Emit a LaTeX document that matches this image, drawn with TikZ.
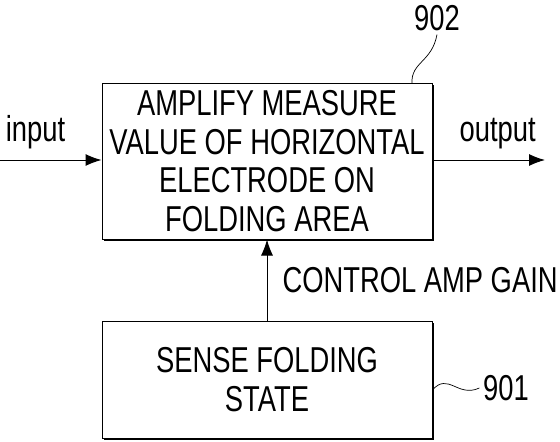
\documentclass[tikz,border=0pt]{standalone}
\usepackage{fontspec}
\setmainfont{Liberation Sans}[FakeStretch=0.76]
\usetikzlibrary{arrows.meta,shadows}

\begin{document}
\begin{tikzpicture}[x=1pt, y=1pt, line width=1pt, font=\fontsize{36}{38.5}\selectfont,
    box/.style={draw, fill=white, align=center, minimum width=330pt, inner sep=0pt,
                drop shadow={shadow xshift=1.8pt, shadow yshift=-1.8pt, fill=black, opacity=1}},
    sig/.style={-{Latex[length=16pt, width=12pt]}}]
            \useasboundingbox (0,0) rectangle (560,-442);
            \node[box, minimum height=156pt] (amp) at (267,-161) {AMPLIFY MEASURE\\VALUE OF HORIZONTAL\\ELECTRODE ON\\FOLDING AREA};
            \node[box, below of=amp, minimum height=117pt, node distance=218.5pt] (sense) {SENSE FOLDING\\STATE};
            \coordinate (in) at (0,-160);
            \coordinate (out) at (545,-160);
            \draw[sig] (in) -- node[above=7pt, pos=0.35] {input} (amp.west |- in);
            \draw[sig] (amp.east |- out) -- node[above=7pt, pos=0.58] {output} (out);
            \draw[sig] (sense.north) -- node[right=15pt, inner sep=0pt] {CONTROL AMP GAIN} (amp.south);
            \node (n902) at (437,-18) {902};
            \node (n901) at (506,-388) {901};
            \draw[line width=0.7pt] (412,-83) .. controls (411,-62) and (432,-62) .. (n902.south);
            \draw[line width=0.7pt] (sense.east |- 0,-390) .. controls (448,-372) and (458,-398) .. (n901.west);
        \end{tikzpicture}
\end{document}
